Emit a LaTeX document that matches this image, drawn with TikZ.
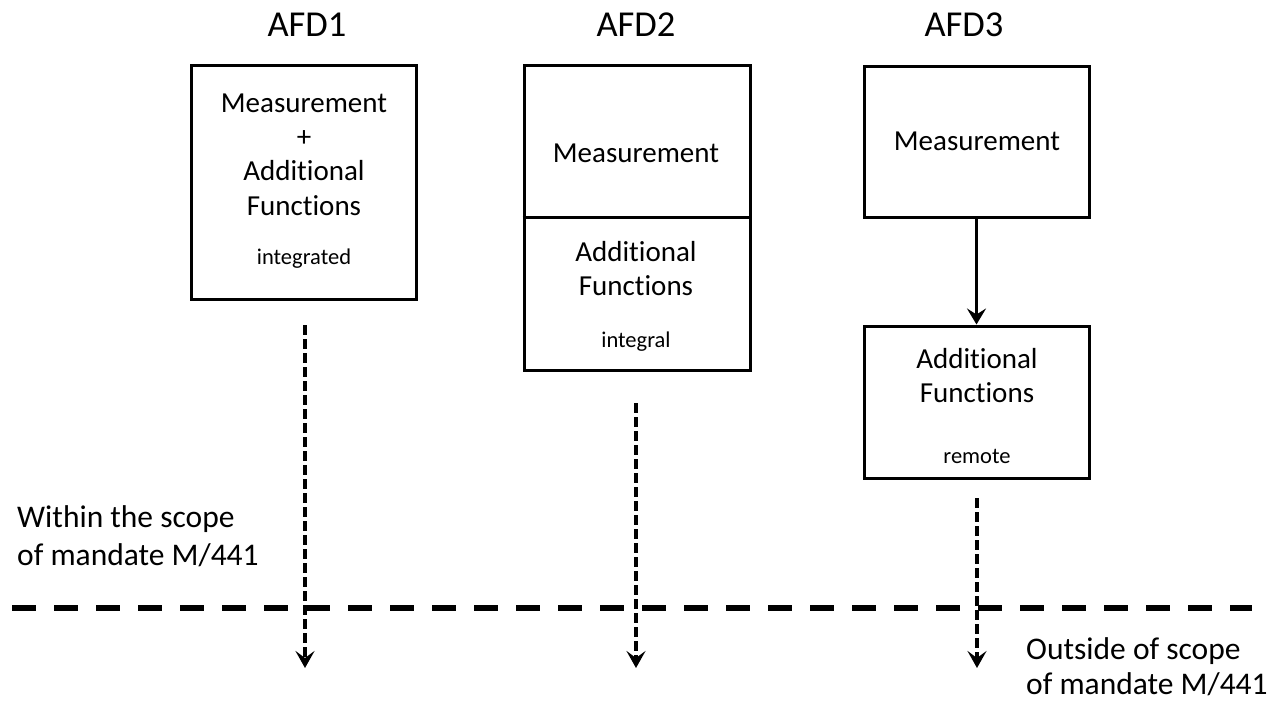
\documentclass[tikz,border=0pt]{standalone}
\usepackage{fontspec}
\setmainfont[RawFeature=-liga]{Carlito}
\usetikzlibrary{arrows.meta}
\begin{document}
\begin{tikzpicture}[x=1pt,y=-1pt,
  box/.style={draw,line width=3pt,minimum width=#1,inner sep=0pt},
  big/.style={font=\fontsize{29}{34}\selectfont,anchor=base,inner sep=0pt},
  small/.style={font=\fontsize{22.5}{26}\selectfont,anchor=base,inner sep=0pt},
  title/.style={font=\fontsize{36.5}{42}\selectfont,anchor=base,inner sep=0pt},
  side/.style={font=\fontsize{31.5}{36}\selectfont,anchor=base west,inner sep=0pt},
  dashedarrow/.style={line width=3.5pt,dash pattern=on 10pt off 4pt,-{Stealth[length=17pt,width=19pt,inset=7pt]}},
  solidarrow/.style={line width=3pt,-{Stealth[length=16pt,width=19pt,inset=6pt]}},
  scopeline/.style={line width=6pt,dash pattern=on 24pt off 18pt}]
\useasboundingbox (0,0) rectangle (1272,701);
% titles
\node[title] (t1) at (307,37) {AFD1};
\node[title] (t2) at (636,37) {AFD2};
\node[title] (t3) at (964,37) {AFD3};
% boxes
\node[box=225pt,minimum height=233pt] (b1) at (303.5,182.5) {};
\node[box=226pt,minimum height=304pt] (b2) at (637,218) {};
\node[box=225pt,minimum height=150pt] (b3a) at (976.5,142) {};
\node[box=225pt,minimum height=152pt] (b3b) at (976.5,402) {};
\draw[line width=3pt] (b2.west |- 0,217) coordinate (d1) -- (b2.east |- 0,217) coordinate (d2);
% AFD1 texts
\node[big] (m1) at (304,113) {Measurement};
\node[big] (p1) at (304,146) {+};
\node[big] (a1) at (304,180) {Additional};
\node[big] (f1) at (304,215) {Functions};
\node[small] (i1) at (304,264) {integrated};
% AFD2 texts
\node[big] (m2) at (636,162) {Measurement};
\node[big] (a2) at (636,261) {Additional};
\node[big] (f2) at (636,295) {Functions};
\node[small] (i2) at (636,347) {integral};
% AFD3 texts
\node[big] (m3) at (977,150) {Measurement};
\node[big] (a3) at (977,368) {Additional};
\node[big] (f3) at (977,402) {Functions};
\node[small] (r3) at (977,463) {remote};
% scope line
\coordinate (sl) at (12,608);
\coordinate (sr) at (1252,608);
\draw[scopeline] (sl) -- (sr);
% side texts
\node[side] (w1) at (17,527) {Within the scope};
\node[side] (w2) at (17,565) {of mandate M/441};
\node[side] (o1) at (1026,659) {Outside of scope};
\node[side] (o2) at (1026,694) {of mandate M/441};
% arrows
\draw[solidarrow] (b3a.south) -- (b3b.north);
\coordinate (s1) at (305,325); \coordinate (e1) at (305,668);
\coordinate (s2) at (636,403); \coordinate (e2) at (636,668);
\coordinate (s3) at (977,498); \coordinate (e3) at (977,668);
\draw[dashedarrow] (s1) -- (e1);
\draw[dashedarrow] (s2) -- (e2);
\draw[dashedarrow] (s3) -- (e3);
\end{tikzpicture}
\end{document}
